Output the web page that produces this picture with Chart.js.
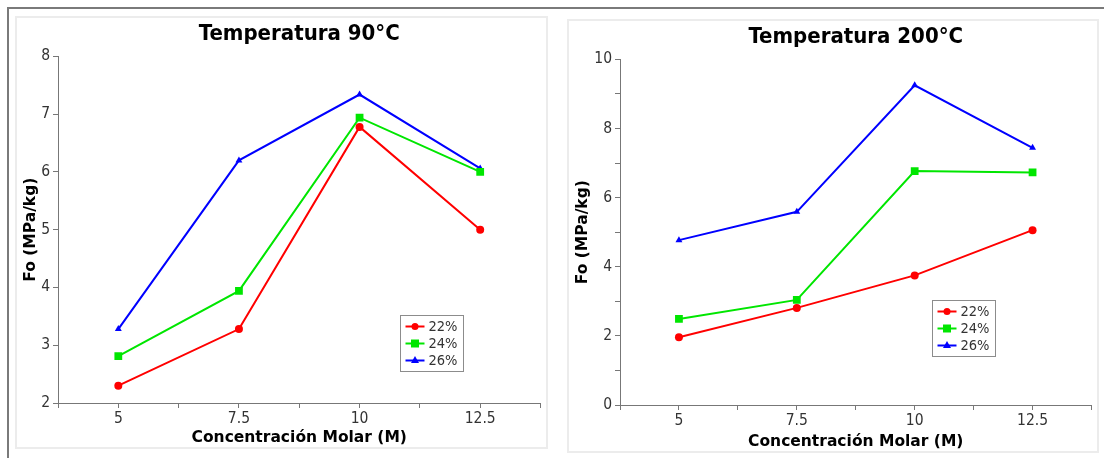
<!DOCTYPE html>
<html>
<head>
<meta charset="utf-8">
<script src="https://cdn.jsdelivr.net/npm/chart.js@4.4.1/dist/chart.umd.min.js"></script>
<style>
  html, body { margin: 0; padding: 0; background: #fff; width: 1104px; height: 458px; overflow: hidden; position: relative; }
  .frameTop { position: absolute; left: 7px; top: 7px; width: 1097px; height: 2px; background: #7a7a7a; }
  .frameLeft { position: absolute; left: 7px; top: 7px; width: 2px; height: 451px; background: #7a7a7a; }
  .panel { position: absolute; background: #fff; box-shadow: 0 0 0 2px #ececec; }
</style>
</head>
<body>
<div class="frameTop"></div>
<div class="frameLeft"></div>
<div class="panel" id="p1" style="left:17px; top:18px; width:529px; height:429px;"><canvas id="c1"></canvas></div>
<div class="panel" id="p2" style="left:569px; top:21px; width:528px; height:430px;"><canvas id="c2"></canvas></div>
<script>
// ---- data ----
const concentrations = [5, 7.5, 10, 12.5];
const xTickLabels = ['5', '7.5', '10', '12.5'];
const seriesLabels = ['22%', '24%', '26%'];
const seriesColors = ['#ff0000', '#00e600', '#0000ff'];
const seriesMarkers = ['circle', 'rect', 'triangle'];

const t90_22 = [2.30, 3.28, 6.78, 5.00];
const t90_24 = [2.81, 3.94, 6.94, 6.00];
const t90_26 = [3.28, 6.20, 7.34, 6.06];

const t200_22 = [1.96, 2.81, 3.75, 5.06];
const t200_24 = [2.49, 3.04, 6.77, 6.73];
const t200_26 = [4.77, 5.59, 9.25, 7.44];

const yTickLabels90 = ['2', '3', '4', '5', '6', '7', '8'];
const yTickLabels200 = ['0', '2', '4', '6', '8', '10'];

const title90 = 'Temperatura 90°C';
const title200 = 'Temperatura 200°C';
const xTitle = 'Concentración Molar (M)';
const yTitle = 'Fo (MPa/kg)';

// ---- helpers ----
const COND = "'DejaVu Sans Condensed', 'DejaVu Sans', sans-serif";
const SANS = "'DejaVu Sans', sans-serif";
Chart.defaults.font.family = SANS;
Chart.defaults.color = '#333';

function pointRadius(style) { return style === 'rect' ? 5.5 : 4; }

function makeDatasets(series) {
  return series.map((vals, i) => ({
    label: seriesLabels[i],
    data: concentrations.map((c, k) => ({ x: c, y: vals[k] })),
    borderColor: seriesColors[i],
    backgroundColor: seriesColors[i],
    borderWidth: 2,
    pointStyle: seriesMarkers[i],
    pointRadius: pointRadius(seriesMarkers[i]),
    pointBorderWidth: 0,
    pointHoverRadius: pointRadius(seriesMarkers[i]),
    tension: 0,
    fill: false
  }));
}

function drawMarker(ctx, style, x, y, color) {
  ctx.save();
  ctx.fillStyle = color;
  ctx.beginPath();
  if (style === 'circle') {
    ctx.arc(x, y, 3.5, 0, Math.PI * 2);
  } else if (style === 'rect') {
    ctx.rect(x - 4, y - 4, 8, 8);
  } else {
    ctx.moveTo(x, y - 4.5);
    ctx.lineTo(x + 4, y + 2.5);
    ctx.lineTo(x - 4, y + 2.5);
    ctx.closePath();
  }
  ctx.fill();
  ctx.restore();
}

const insideLegend = {
  id: 'insideLegend',
  afterDraw(chart, args, opts) {
    const { ctx, chartArea: a } = chart;
    const x0 = Math.round(a.left + opts.fx * (a.right - a.left)) + 0.5;
    const y0 = Math.round(a.top + opts.fy * (a.bottom - a.top)) + 0.5;
    const w = 63, h = 56;
    ctx.save();
    ctx.fillStyle = '#fff';
    ctx.fillRect(x0, y0, w, h);
    ctx.strokeStyle = '#8c8c8c';
    ctx.lineWidth = 1;
    ctx.strokeRect(x0, y0, w, h);
    ctx.font = "14.5px " + COND;
    ctx.textBaseline = 'middle';
    chart.data.datasets.forEach((ds, i) => {
      const cy = y0 + 11 + i * 17;
      ctx.strokeStyle = ds.borderColor;
      ctx.lineWidth = 2;
      ctx.beginPath();
      ctx.moveTo(x0 + 5, cy);
      ctx.lineTo(x0 + 24, cy);
      ctx.stroke();
      drawMarker(ctx, ds.pointStyle, x0 + 14.5, cy, ds.borderColor);
      ctx.fillStyle = '#333';
      ctx.fillText(ds.label, x0 + 28, cy + 0.5);
    });
    ctx.restore();
  }
};

function makeChart(canvasId, series, cfg) {
  const ctx = document.getElementById(canvasId);
  return new Chart(ctx, {
    type: 'line',
    data: { datasets: makeDatasets(series) },
    plugins: [insideLegend],
    options: {
      responsive: true,
      maintainAspectRatio: false,
      animation: false,
      layout: { padding: { left: 0, right: 2, top: 0, bottom: 0 } },
      plugins: {
        legend: { display: false },
        tooltip: { enabled: false },
        title: {
          display: true,
          fullSize: false,
          text: cfg.title,
          color: '#000',
          font: { size: 22, weight: 'bold', family: COND },
          padding: { top: 3, bottom: 9 }
        },
        insideLegend: { fx: cfg.legendFx, fy: cfg.legendFy }
      },
      scales: {
        x: {
          type: 'linear',
          min: 3.75,
          max: 13.75,
          afterFit: s => { s.height = cfg.xHeight; },
          ticks: {
            stepSize: 1.25,
            autoSkip: false,
            maxRotation: 0,
            padding: 2,
            color: '#333',
            font: { size: 15.5, family: COND },
            callback: v => {
              const k = concentrations.findIndex(c => Math.abs(c - v) < 1e-6);
              return k >= 0 ? xTickLabels[k] : '';
            }
          },
          grid: { drawOnChartArea: false, drawTicks: true, tickLength: 5, color: '#777' },
          border: { display: true, color: '#777', width: 1 },
          title: {
            display: true, text: xTitle, color: '#000',
            font: { size: 15.5, weight: 'bold' },
            padding: { top: 0, bottom: 0 }
          }
        },
        y: {
          min: cfg.yMin,
          max: cfg.yMax,
          afterFit: s => { s.width = cfg.yWidth; },
          ticks: {
            stepSize: 1,
            autoSkip: false,
            padding: 3,
            color: '#333',
            font: { size: 15.5, family: COND },
            callback: v => {
              const lbl = String(v);
              return cfg.yLabels.includes(lbl) ? lbl : '';
            }
          },
          grid: { drawOnChartArea: false, drawTicks: true, tickLength: 5, color: '#777' },
          border: { display: true, color: '#777', width: 1 },
          title: {
            display: true, text: yTitle, color: '#000',
            font: { size: 15.5, weight: 'bold' },
            padding: { top: 5, bottom: 0 }
          }
        }
      }
    }
  });
}

makeChart('c1', [t90_22, t90_24, t90_26], {
  title: title90, yMin: 2, yMax: 8, yLabels: yTickLabels90,
  yWidth: 41, xHeight: 44, legendFx: 0.708, legendFy: 0.746
});
makeChart('c2', [t200_22, t200_24, t200_26], {
  title: title200, yMin: 0, yMax: 10, yLabels: yTickLabels200,
  yWidth: 51, xHeight: 46, legendFx: 0.661, legendFy: 0.697
});
</script>
</body>
</html>
